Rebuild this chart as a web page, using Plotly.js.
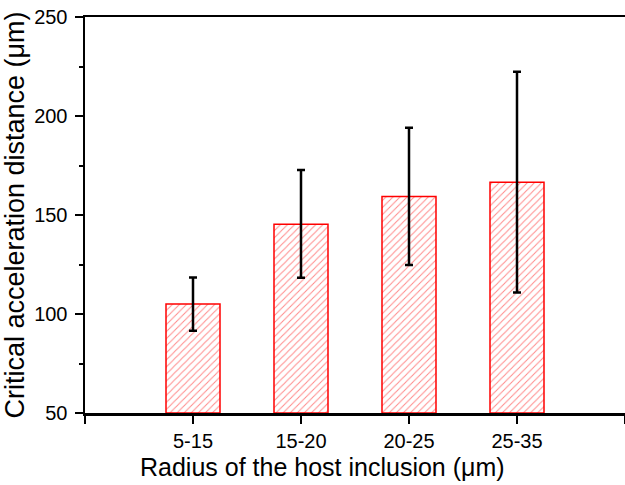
<!DOCTYPE html>
<html>
<head>
<meta charset="utf-8">
<script src="https://cdn.plot.ly/plotly-3.0.1.min.js"></script>
<style>html,body{margin:0;padding:0;background:#fff;}#chart{width:625px;height:485px;}</style>
</head>
<body>
<div id="chart"></div>
<script>
var categories = ['5-15', '15-20', '20-25', '25-35'];
var meanValues = [105.0, 145.3, 159.3, 166.6];
var errorPlus = [13.4, 27.4, 34.8, 55.8];
var errorMinus = [13.4, 27.0, 34.6, 55.8];
var yTickValues = [50, 100, 150, 200, 250];
var xTitle = 'Radius of the host inclusion (μm)';
var yTitle = 'Critical acceleration distance (μm)';

var xPositions = categories.map(function (c, i) { return i + 1; });

var trace = {
  type: 'bar',
  x: xPositions,
  y: meanValues.map(function (v) { return v - 50; }),
  base: 50,
  width: 0.5,
  marker: {
    color: '#ffffff',
    line: { color: '#ff0000', width: 1.5 },
    pattern: { shape: '/', fgcolor: '#ff8a8a', bgcolor: '#ffffff', size: 5, solidity: 0.2 }
  },
  error_y: {
    type: 'data', symmetric: false,
    array: errorPlus, arrayminus: errorMinus,
    color: '#000000', thickness: 2.5, width: 4
  },
  hoverinfo: 'skip'
};

var layout = {
  width: 625, height: 485,
  margin: { l: 85, r: 0, t: 17, b: 72 },
  paper_bgcolor: '#ffffff', plot_bgcolor: '#ffffff',
  showlegend: false,
  font: { family: 'Liberation Sans, Arial, sans-serif', color: '#000000' },
  xaxis: {
    range: [0, 5],
    tickvals: [0].concat(xPositions).concat([5]),
    ticktext: [''].concat(categories).concat(['']),
    ticks: 'outside', ticklen: 8, tickwidth: 2, tickcolor: '#000',
    showline: true, linecolor: '#000', linewidth: 2.5, mirror: true,
    showgrid: false, zeroline: false,
    tickfont: { size: 20 }
  },
  yaxis: {
    range: [50, 250],
    tickvals: yTickValues,
    ticks: 'outside', ticklen: 8, tickwidth: 2, tickcolor: '#000',
    minor: { dtick: 25, ticks: 'outside', ticklen: 4, tickwidth: 2, tickcolor: '#000' },
    showline: true, linecolor: '#000', linewidth: 2.5,
    showgrid: false, zeroline: false,
    ticklabelstandoff: 3,
    tickfont: { size: 20 },
    title: { text: yTitle, font: { size: 27 }, standoff: 2 }
  },
  annotations: [{
    text: xTitle, xref: 'paper', yref: 'paper',
    x: 0.439, y: -0.136, xanchor: 'center', yanchor: 'middle',
    showarrow: false, font: { size: 25 }
  }]
};

Plotly.newPlot('chart', [trace], layout, { displayModeBar: false, staticPlot: true });
</script>
</body>
</html>
